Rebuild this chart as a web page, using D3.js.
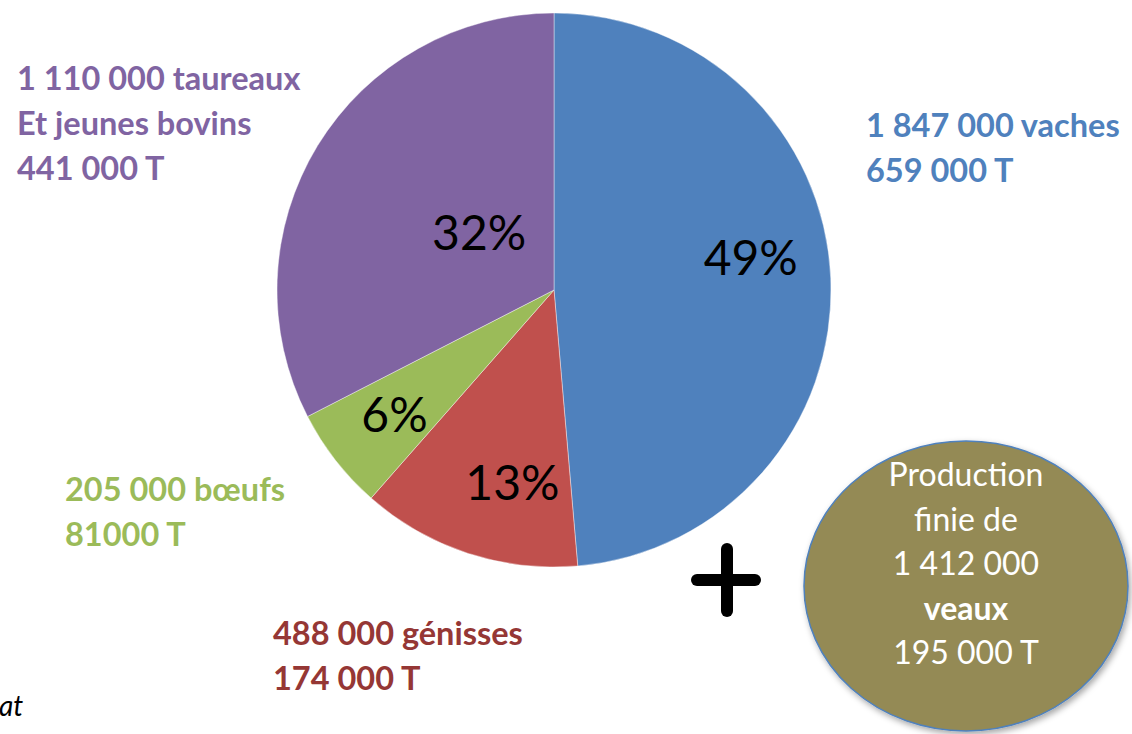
<!DOCTYPE html>
<html>
<head>
<meta charset="utf-8">
<script src="https://cdn.jsdelivr.net/npm/d3@7"></script>
<style>
  body { margin: 0; background: #fff; }
  svg { display: block; }
  text { font-family: Lato, "Open Sans", sans-serif; }
</style>
</head>
<body>
<svg id="chart" width="1132" height="734"></svg>
<script>
// data
const categories = ["vaches", "génisses", "bœufs", "taureaux et jeunes bovins"];
const tonnes = [659000, 174000, 81000, 441000];
const pctLabels = ["49%", "13%", "6%", "32%"];
const headLines = [
  ["1 847 000 vaches", "659 000 T"],
  ["488 000 génisses", "174 000 T"],
  ["205 000 bœufs", "81000 T"],
  ["1 110 000 taureaux", "Et jeunes bovins", "441 000 T"]
];
const sliceColors = ["#4F81BD", "#C0504D", "#9BBB59", "#8064A2"];
const textColors = ["#4F81BD", "#953735", "#9BBB59", "#8064A2"];
const veauxLines = ["Production", "finie de", "1 412 000", "veaux", "195 000 T"];

const svg = d3.select("#chart");
const cx = 554, cy = 290, r = 277;

const pie = d3.pie().sort(null).value(d => d);
const arcs = pie(tonnes);
const arc = d3.arc().innerRadius(0).outerRadius(r);

const g = svg.append("g").attr("transform", `translate(${cx},${cy})`);

g.selectAll("path")
  .data(arcs)
  .join("path")
  .attr("d", arc)
  .attr("fill", (d, i) => sliceColors[i])
  .attr("stroke", "#fff")
  .attr("stroke-opacity", 0.5)
  .attr("stroke-width", 0.8);

// percent labels: radius as share of r, small angle nudge (degrees) like Excel best fit
const labelK = [0.72, 0.71, 0.73, 0.34];
const labelNudge = [-7, -6, 0, 6];
g.selectAll("text.pct")
  .data(arcs)
  .join("text")
  .attr("class", "pct")
  .attr("transform", (d, i) => {
    const a = (d.startAngle + d.endAngle) / 2 + labelNudge[i] * Math.PI / 180;
    const rr = r * labelK[i];
    return `translate(${rr * Math.sin(a)},${-rr * Math.cos(a)})`;
  })
  .attr("text-anchor", "middle")
  .attr("dy", "0.36em")
  .style("font-size", "48px")
  .style("fill", "#000")
  .text((d, i) => pctLabels[i]);

// outside labels
const labelPos = [[866, 137], [273, 645], [65, 501], [17, 90]];
headLines.forEach((lines, i) => {
  const t = svg.append("text")
    .attr("x", labelPos[i][0])
    .attr("y", labelPos[i][1])
    .style("font-size", "32.5px")
    .style("font-weight", "bold")
    .style("fill", textColors[i]);
  lines.forEach((l, j) => {
    t.append("tspan")
      .attr("x", labelPos[i][0])
      .attr("dy", j === 0 ? 0 : 45)
      .text(l);
  });
});

// plus sign
const plus = svg.append("g").attr("stroke", "#000").attr("stroke-width", 12).attr("stroke-linecap", "round");
plus.append("line").attr("x1", 697).attr("x2", 755).attr("y1", 580).attr("y2", 580);
plus.append("line").attr("x1", 727).attr("x2", 727).attr("y1", 549).attr("y2", 611);

// veaux ellipse
const defs = svg.append("defs");
const f = defs.append("filter").attr("id", "shadow").attr("x", "-10%").attr("y", "-10%").attr("width", "130%").attr("height", "130%");
f.append("feDropShadow").attr("dx", 2).attr("dy", 3).attr("stdDeviation", 3).attr("flood-color", "#000").attr("flood-opacity", 0.35);

svg.append("ellipse")
  .attr("cx", 966).attr("cy", 586)
  .attr("rx", 162).attr("ry", 145)
  .attr("fill", "#948A54")
  .attr("stroke", "#4F81BD")
  .attr("stroke-width", 1.5)
  .attr("filter", "url(#shadow)");

svg.selectAll("text.veaux")
  .data(veauxLines)
  .join("text")
  .attr("class", "veaux")
  .attr("x", 966)
  .attr("y", (d, i) => 486 + i * 44.5)
  .attr("text-anchor", "middle")
  .style("font-size", "32px")
  .style("font-weight", (d, i) => i === 3 ? "bold" : "normal")
  .style("fill", "#fff")
  .text(d => d);

// cut-off source note
svg.append("text")
  .attr("x", -1).attr("y", 716)
  .style("font-size", "28px")
  .style("font-style", "italic")
  .style("fill", "#000")
  .text("at");
</script>
</body>
</html>
